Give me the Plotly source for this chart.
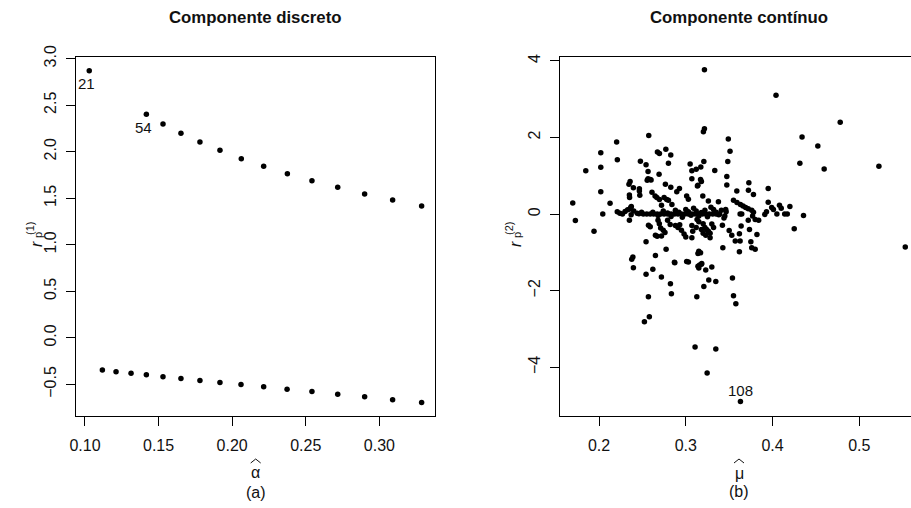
import plotly.graph_objects as go

# ---------------- data ----------------
# Panel (a): discrete component, upper branch
alpha_up_x = [0.1029, 0.1417, 0.1530, 0.1652, 0.1781, 0.1917, 0.2062, 0.2214,
              0.2375, 0.2542, 0.2717, 0.2900, 0.3090, 0.3287]
alpha_up_y = [2.871, 2.402, 2.298, 2.198, 2.104, 2.015, 1.925, 1.843,
              1.764, 1.688, 1.617, 1.545, 1.481, 1.416]
# lower branch
alpha_lo_x = [0.1118, 0.1211, 0.1313, 0.1417, 0.1530, 0.1652, 0.1781, 0.1917,
              0.2060, 0.2214, 0.2373, 0.2542, 0.2717, 0.2900, 0.3090, 0.3287]
alpha_lo_y = [-0.347, -0.365, -0.380, -0.398, -0.419, -0.437, -0.458, -0.480,
              -0.501, -0.527, -0.552, -0.577, -0.605, -0.634, -0.666, -0.695]
alpha_lab_x = [0.1029, 0.1417]
alpha_lab_y = [2.871, 2.402]
alpha_lab = ["21", "54"]

# Panel (b): continuous component
mu_x = [0.3215, 0.4040, 0.478, 0.4340, 0.4522, 0.4315, 0.4595, 0.5226, 0.553, 0.425, 0.4357,
        0.3215, 0.3203, 0.2573, 0.3490, 0.2203, 0.3510, 0.2770, 0.2673, 0.2696, 0.2827, 0.202,
        0.2211, 0.202, 0.2477, 0.2542, 0.2800, 0.3484, 0.3208, 0.3050, 0.307, 0.312, 0.3173,
        0.3334, 0.1847, 0.2565, 0.2692,
        0.2565, 0.2590, 0.2555, 0.2600, 0.307, 0.3170, 0.3180, 0.3140, 0.3473, 0.3473, 0.3727, 0.3950,
        0.2358, 0.2345, 0.2396, 0.2465, 0.2765, 0.2827, 0.2927,
        0.202, 0.2127, 0.1697, 0.1727, 0.2043, 0.1942,
        0.235, 0.2352, 0.2465, 0.2470, 0.2610, 0.2646, 0.2666, 0.2696, 0.2750, 0.2780, 0.2800,
        0.2720, 0.2840, 0.2896, 0.3010, 0.3030,
        0.3134, 0.3588, 0.3722, 0.3780, 0.3196, 0.3260, 0.3376,
        0.355, 0.359, 0.363, 0.366, 0.369, 0.372, 0.376,
        0.346, 0.3465, 0.345, 0.344,
        0.3626, 0.3645, 0.378, 0.377, 0.391, 0.393, 0.399, 0.401, 0.405, 0.408, 0.410, 0.414,
        0.420, 0.417, 0.395,
        0.380, 0.384, 0.372,
        0.221, 0.224, 0.227, 0.230, 0.233, 0.236, 0.237, 0.240, 0.244, 0.246, 0.249, 0.2366, 0.2372,
        0.251, 0.255, 0.259, 0.263, 0.267, 0.271, 0.275, 0.279, 0.283, 0.287, 0.291, 0.295,
        0.299, 0.303, 0.307, 0.311, 0.315, 0.319, 0.323, 0.327, 0.331, 0.335, 0.339,
        0.262, 0.268, 0.274, 0.279, 0.283, 0.288, 0.292, 0.296, 0.300, 0.303, 0.306, 0.309,
        0.312, 0.315, 0.318, 0.322, 0.325, 0.329, 0.332, 0.335, 0.338, 0.341,
        0.235, 0.257, 0.259, 0.268, 0.2695, 0.271, 0.274, 0.276, 0.279, 0.282, 0.265, 0.267,
        0.272, 0.288, 0.291, 0.293, 0.295, 0.298, 0.300, 0.2542, 0.2773, 0.2650, 0.2390,
        0.2377, 0.2869, 0.301,
        0.313, 0.315, 0.320, 0.322, 0.324, 0.326, 0.328, 0.330, 0.332, 0.318, 0.320, 0.323,
        0.328, 0.307, 0.308, 0.312, 0.307,
        0.3422, 0.350, 0.353, 0.357, 0.3626, 0.3618, 0.3638, 0.3734, 0.375, 0.382, 0.376,
        0.380, 0.3427, 0.3618, 0.315, 0.317, 0.314, 0.3184,
        0.2396, 0.2542, 0.262, 0.2719, 0.2823, 0.2834, 0.2873, 0.303, 0.314, 0.316, 0.318,
        0.315, 0.323, 0.330, 0.3265, 0.3346, 0.3208, 0.3127, 0.3538, 0.355, 0.3577, 0.2569,
        0.258, 0.2523, 0.3107, 0.3346, 0.3246, 0.363]
mu_y = [3.77, 3.10, 2.40, 2.01, 1.78, 1.33, 1.18, 1.25, -0.86, -0.38, -0.04,
        2.23, 2.15, 2.05, 1.96, 1.88, 1.64, 1.69, 1.62, 1.58, 1.54, 1.60,
        1.42, 1.22, 1.38, 1.29, 1.33, 1.37, 1.37, 1.31, 1.13, 1.17, 1.23,
        1.14, 1.13, 1.11, 1.04,
        0.92, 0.90, 0.88, 0.89, 0.92, 0.90, 0.85, 0.75, 0.98, 0.76, 0.82, 0.67,
        0.85, 0.78, 0.69, 0.66, 0.78, 0.70, 0.67,
        0.58, 0.28, 0.29, -0.17, 0.0, -0.45,
        0.50, 0.43, 0.60, 0.49, 0.57, 0.47, 0.43, 0.38, 0.43, 0.38, 0.36,
        0.23, 0.25, 0.58, 0.47, 0.39,
        0.73, 0.60, 0.62, 0.51, 0.47, 0.34, 0.32,
        0.36, 0.30, 0.25, 0.21, 0.17, 0.14, 0.10,
        0.12, 0.06, -0.05, -0.10,
        0.0, 0.0, 0.05, -0.05, -0.01, 0.06, 0.17, 0.12, 0.0, 0.23, 0.15, 0.0,
        0.20, 0.0, 0.31,
        -0.14, -0.16, -0.16,
        0.06, 0.02, 0.0, 0.07, 0.11, 0.13, -0.02, 0.08, 0.02, 0.01, 0.05, 0.17, 0.20,
        0.0, 0.0, 0.0, 0.0, 0.0, 0.0, 0.0, 0.0, 0.0, 0.0, 0.0, 0.0,
        0.0, 0.0, 0.0, 0.0, 0.0, 0.0, 0.0, 0.0, 0.0, 0.0, 0.0,
        0.05, -0.04, 0.08, 0.03, -0.06, 0.10, 0.05, -0.08, 0.12, 0.06, -0.03, 0.15,
        0.08, -0.05, 0.04, 0.10, -0.07, 0.18, 0.12, 0.05, -0.02, 0.10,
        -0.16, -0.29, -0.33, -0.16, -0.25, -0.36, -0.42, -0.48, -0.16, -0.27, -0.55, -0.58,
        -0.57, -0.30, -0.35, -0.28, -0.42, -0.52, -0.60, -0.72, -0.92, -1.08, -1.12,
        -1.18, -1.26, -1.24,
        -0.14, -0.20, -0.25, -0.35, -0.40, -0.45, -0.50, -0.26, -0.35, -0.40, -0.50, -0.55,
        -0.62, -0.30, -0.45, -0.35, -0.62,
        -0.29, -0.43, -0.55, -0.70, -0.70, -0.51, -0.31, -0.40, -0.72, -0.53, -0.88,
        -0.92, -0.88, -0.98, -0.97, -1.01, -1.03, -1.29,
        -1.40, -1.57, -1.44, -1.64, -1.82, -2.08, -1.27, -1.25, -1.36, -1.33, -1.31,
        -1.41, -1.46, -1.38, -1.72, -1.76, -1.89, -2.16, -1.67, -2.13, -2.34, -2.16,
        -2.68, -2.81, -3.47, -3.52, -4.15, -4.89]
mu_lab_x = [0.363]
mu_lab_y = [-4.89]
mu_lab = ["108"]

a_ticks = [0.10, 0.15, 0.20, 0.25, 0.30]
a_ticktext = ["0.10", "0.15", "0.20", "0.25", "0.30"]
r1_ticks = [-0.5, 0.0, 0.5, 1.0, 1.5, 2.0, 2.5, 3.0]
r1_ticktext = ["\u22120.5", "0.0", "0.5", "1.0", "1.5", "2.0", "2.5", "3.0"]
m_ticks = [0.2, 0.3, 0.4, 0.5]
m_ticktext = ["0.2", "0.3", "0.4", "0.5"]
r2_ticks = [-4, -2, 0, 2, 4]
r2_ticktext = ["\u22124", "\u22122", "0", "2", "4"]

# ---------------- figure ----------------
W, H = 911, 508
FONT = "Liberation Sans, Arial, Helvetica, sans-serif"
mk = dict(color="black", size=5.5)

fig = go.Figure()
fig.add_trace(go.Scatter(x=alpha_up_x, y=alpha_up_y, mode="markers", marker=mk,
                         xaxis="x", yaxis="y", showlegend=False, hoverinfo="skip"))
fig.add_trace(go.Scatter(x=alpha_lo_x, y=alpha_lo_y, mode="markers", marker=mk,
                         xaxis="x", yaxis="y", showlegend=False, hoverinfo="skip"))
fig.add_trace(go.Scatter(x=mu_x, y=mu_y, mode="markers", marker=mk,
                         xaxis="x2", yaxis="y2", showlegend=False, hoverinfo="skip"))

axis_common = dict(showgrid=False, zeroline=False, showline=True, linecolor="black",
                   linewidth=1, ticks="outside", ticklen=9, tickcolor="black", tickwidth=1,
                   tickmode="array", automargin=False,
                   tickfont=dict(family=FONT, size=16, color="#111"))

y_dom = [(H - 416) / H, (H - 57) / H]

fig.update_layout(
    template="none",
    width=W, height=H, autosize=False,
    margin=dict(l=0, r=0, t=0, b=0, pad=0),
    paper_bgcolor="white", plot_bgcolor="white",
    xaxis=dict(axis_common, domain=[76.3 / W, 435 / W], range=[0.0941, 0.3378],
               tickvals=a_ticks, ticktext=a_ticktext, mirror=True, anchor="y",
               ticklabelstandoff=6),
    yaxis=dict(axis_common, domain=y_dom, range=[-0.840, 3.018],
               tickvals=r1_ticks, ticktext=r1_ticktext, mirror=True, anchor="x",
               tickangle=-90, ticklabelstandoff=4),
    xaxis2=dict(axis_common, domain=[560 / W, 1.0], range=[0.155, 0.5596],
                tickvals=m_ticks, ticktext=m_ticktext, mirror=True, anchor="y2",
                ticklabelstandoff=6),
    yaxis2=dict(axis_common, domain=y_dom, range=[-5.27, 4.10],
                tickvals=r2_ticks, ticktext=r2_ticktext, mirror=False, anchor="x2",
                tickangle=-90, ticklabelstandoff=4),
)

ann = []
shapes = []
def px(xp, yp, text, size=16, bold=False, angle=0, xa="center", ya="middle"):
    t = f"<b>{text}</b>" if bold else text
    ann.append(dict(x=xp / W, y=1 - yp / H, xref="paper", yref="paper", text=t,
                    showarrow=False, xanchor=xa, yanchor=ya, textangle=angle,
                    font=dict(family=FONT, size=size, color="#111")))

def hat(xc, ytop):
    # thin wide circumflex (decoration above a Greek letter)
    shapes.append(dict(type="path", xref="paper", yref="paper",
                       path=(f"M {(xc - 5) / W},{1 - (ytop + 4) / H} "
                             f"L {xc / W},{1 - ytop / H} "
                             f"L {(xc + 5) / W},{1 - (ytop + 4) / H}"),
                       line=dict(color="#111", width=1)))

# titles
px(255.7, 17, "Componente discreto", size=16.8, bold=True)
px(739, 17, "Componente contínuo", size=16.8, bold=True)
# x-axis titles and panel tags
px(255.7, 472, "\u03b1", size=16)
hat(255.7, 459)
px(255.7, 492, "(a)", size=16)
px(739, 473, "\u03bc", size=16)
hat(739, 459)
px(739, 491, "(b)", size=16)
# y-axis titles: r with stacked sub p / sup (k)
for xr, sup in ((36, "(1)"), (515, "(2)")):
    px(xr, 244, "<i>r</i>", size=16, angle=-90)
    px(xr - 6, 229, sup, size=11, angle=-90)
    px(xr + 2, 235, "p", size=11, angle=-90)

# point labels
for x, y, t in zip(alpha_lab_x, alpha_lab_y, alpha_lab):
    ann.append(dict(x=x, y=y, xref="x", yref="y", text=t, showarrow=False,
                    xshift=-2.5, yshift=-13, font=dict(family=FONT, size=15, color="#111")))
for x, y, t in zip(mu_lab_x, mu_lab_y, mu_lab):
    ann.append(dict(x=x, y=y, xref="x2", yref="y2", text=t, showarrow=False,
                    yshift=11, font=dict(family=FONT, size=15, color="#111")))

fig.update_layout(annotations=ann, shapes=shapes)
fig.write_html("out.html",
               config={"displayModeBar": False, "staticPlot": True},
               post_script="document.body.style.margin='0';document.body.style.overflow='hidden';")
